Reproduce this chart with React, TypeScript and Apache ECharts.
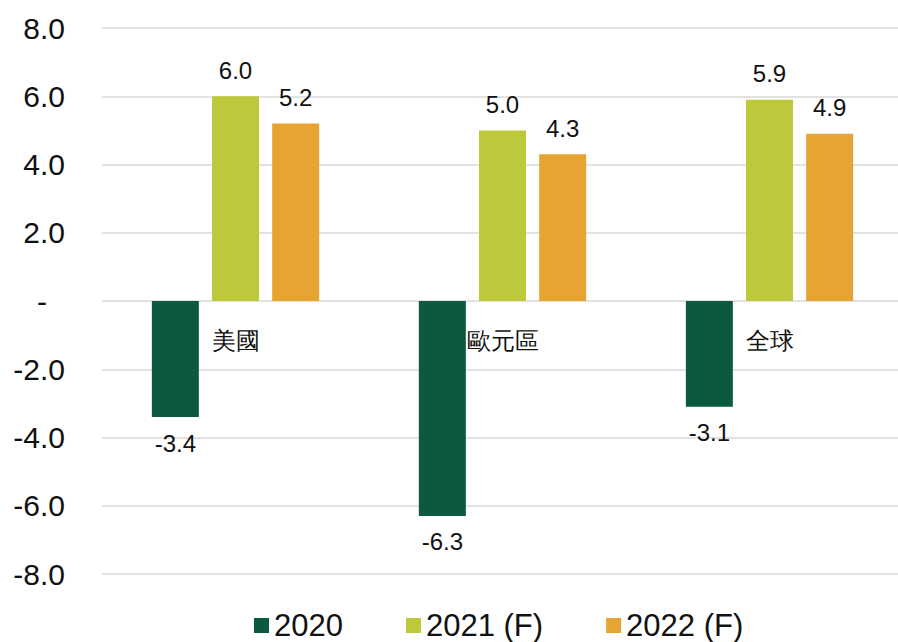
import React, { useEffect, useRef } from "react";
import * as echarts from "echarts";

const categories = ["美國", "歐元區", "全球"];
const seriesNames = ["2020", "2021 (F)", "2022 (F)"];
const values2020 = [-3.4, -6.3, -3.1];
const values2021 = [6.0, 5.0, 5.9];
const values2022 = [5.2, 4.3, 4.9];
const colors = ["#0b5a3f", "#bdc83b", "#e6a532"];

const FONT = "'Liberation Sans', Arial, sans-serif";

export default function App() {
  const ref = useRef<HTMLDivElement>(null);
  useEffect(() => {
    if (!ref.current) return;
    const chart = echarts.init(ref.current, undefined, { renderer: "svg" });
    const all = [values2020, values2021, values2022];
    const series = all.map((vals, i) => ({
      name: seriesNames[i],
      type: "bar",
      barWidth: 47,
      barGap: "28%",
      itemStyle: { color: colors[i] },
      data: vals.map((v) => ({
        value: v,
        label: { position: v < 0 ? "bottom" : "top" },
      })),
      label: {
        show: true,
        distance: 14,
        fontSize: 24,
        fontFamily: FONT,
        color: "#111",
        formatter: (p: any) => Number(p.value).toFixed(1),
      },
    }));
    chart.setOption({
      animation: false,
      textStyle: { fontFamily: FONT },
      color: colors,
      grid: {
        left: 102,
        width: 801,
        top: 28,
        bottom: 68,
        containLabel: false,
        outerBoundsMode: "none",
      },
      legend: {
        left: 249,
        top: 605,
        icon: "rect",
        itemWidth: 15,
        itemHeight: 15,
        itemGap: 63,
        textStyle: { fontSize: 31, color: "#111", fontFamily: FONT },
        data: seriesNames,
      },
      xAxis: {
        type: "category",
        data: categories,
        z: 5,
        axisLine: { show: false },
        axisTick: { show: false },
        axisLabel: { fontSize: 24, color: "#111", margin: -246, fontFamily: FONT },
        splitLine: { show: false },
      },
      yAxis: {
        type: "value",
        min: -8,
        max: 8,
        interval: 2,
        axisLine: { show: false },
        axisTick: { show: false },
        splitLine: { lineStyle: { color: "#d9d9d9", width: 1.5 } },
        axisLabel: {
          fontSize: 30,
          color: "#111",
          margin: 37,
          fontFamily: FONT,
          formatter: (v: number) => (v === 0 ? "{z|-}" : v.toFixed(1)),
          rich: {
            z: { fontSize: 30, color: "#111", padding: [0, 18, 0, 0], fontFamily: FONT },
          },
        },
      },
      series,
    });
    return () => chart.dispose();
  }, []);
  return (
    <div
      ref={ref}
      style={{ position: "absolute", left: 0, top: 0, width: 898, height: 642, overflow: "hidden" }}
    />
  );
}
